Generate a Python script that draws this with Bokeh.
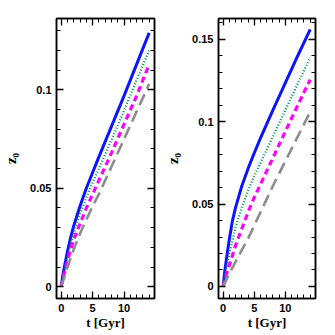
from bokeh.plotting import figure
from bokeh.layouts import row
from bokeh.models import Range1d, LinearAxis, FixedTicker, CustomJSTickFormatter
from bokeh.embed import file_html
from bokeh.resources import INLINE

# ---------------- data ----------------
t = [0, 0.25, 0.5, 1, 1.5, 2, 3, 4, 5, 6, 8, 10, 12, 14]

left_blue = [0, 0.0055, 0.010, 0.018, 0.025, 0.031, 0.041, 0.050, 0.058, 0.066, 0.0815, 0.097, 0.113, 0.129]
left_green = [0, 0.0045, 0.008, 0.015, 0.022, 0.027, 0.037, 0.045, 0.053, 0.060, 0.0745, 0.0895, 0.105, 0.120]
left_magenta = [0, 0.0035, 0.007, 0.013, 0.019, 0.024, 0.032, 0.040, 0.047, 0.054, 0.068, 0.0825, 0.097, 0.113]
left_gray = [0, 0.0025, 0.005, 0.010, 0.0145, 0.019, 0.027, 0.034, 0.041, 0.047, 0.061, 0.075, 0.089, 0.103]

right_blue = [0, 0.009, 0.016, 0.029, 0.040, 0.048, 0.061, 0.0715, 0.081, 0.090, 0.107, 0.1236, 0.140, 0.156]
right_green = [0, 0.006, 0.011, 0.020, 0.028, 0.036, 0.048, 0.058, 0.067, 0.075, 0.091, 0.107, 0.123, 0.139]
right_magenta = [0, 0.0037, 0.007, 0.013, 0.019, 0.025, 0.035, 0.045, 0.054, 0.062, 0.078, 0.094, 0.110, 0.1255]
right_gray = [0, 0.002, 0.004, 0.008, 0.0115, 0.015, 0.022, 0.029, 0.037, 0.045, 0.061, 0.076, 0.091, 0.106]

x_major = [0, 5, 10]
x_minor = list(range(0, 15))
y_major_left = [0, 0.05, 0.1]
y_major_right = [0, 0.05, 0.1, 0.15]
y_minor_left = [i / 100 for i in range(0, 14)]
y_minor_right = [i / 100 for i in range(0, 17)]

x_label = "t [Gyr]"
y_label = "z\u2080"

TICK_FONT = "Liberation Sans"
LABEL_FONT = "Liberation Serif"


def fmt_override(ticks):
    return {v: ("0" if v == 0 else str(v)) for v in ticks}


def make_panel(series, y_range, y_major, y_minor, border_left, border_right, frame_w):
    p = figure(output_backend="svg", toolbar_location=None,
               frame_width=frame_w, frame_height=280,
               min_border_left=border_left, min_border_right=border_right,
               min_border_top=18, min_border_bottom=30,
               x_range=Range1d(-0.75, 14.85), y_range=Range1d(*y_range),
               background_fill_color="white", border_fill_color="white")
    p.grid.visible = False
    p.outline_line_color = "black"
    p.outline_line_width = 1.5

    blue, green, magenta, gray = series
    p.line(t, blue, line_color="#0a14ff", line_width=3)
    p.line(t, green, line_color="#00905a", line_width=2.3, line_dash="1 2")
    p.line(t, magenta, line_color="#ff00ff", line_width=3.2, line_dash="6 4")
    p.line(t, gray, line_color="#8c8c8c", line_width=2.6, line_dash="12 6")

    xt = FixedTicker(ticks=x_major, minor_ticks=x_minor)
    yt = FixedTicker(ticks=y_major, minor_ticks=y_minor)

    # primary axes
    xa = p.xaxis[0]
    xa.ticker = xt
    xa.major_label_overrides = fmt_override(x_major)
    xa.axis_label = x_label
    ya = p.yaxis[0]
    ya.ticker = yt
    ya.major_label_overrides = fmt_override(y_major)
    ya.axis_label = y_label

    # mirrored axes (ticks only)
    blank = CustomJSTickFormatter(code="return ''")
    top = LinearAxis(ticker=FixedTicker(ticks=x_major, minor_ticks=x_minor), formatter=blank)
    right = LinearAxis(ticker=FixedTicker(ticks=y_major, minor_ticks=y_minor), formatter=blank)
    p.add_layout(top, "above")
    p.add_layout(right, "right")

    for ax in [xa, ya, top, right]:
        ax.axis_line_color = "black"
        ax.axis_line_width = 1.5
        ax.major_tick_in = 7
        ax.major_tick_out = 0
        ax.minor_tick_in = 4
        ax.minor_tick_out = 0
        ax.major_tick_line_width = 1.3
        ax.minor_tick_line_width = 1
        ax.major_label_text_font = TICK_FONT
        ax.major_label_text_font_style = "bold"
        ax.major_label_text_font_size = "11px"
        ax.major_label_text_color = "black"
        ax.axis_label_text_font = LABEL_FONT
        ax.axis_label_text_font_style = "bold"
        ax.axis_label_text_font_size = "13px"
        ax.axis_label_text_color = "black"
    ya.axis_label_text_font_size = "15px"
    xa.major_label_standoff = 5
    xa.axis_label_standoff = 0
    ya.major_label_standoff = 5
    ya.axis_label_standoff = 8
    top.major_label_standoff = 0
    right.major_label_standoff = 0
    return p


pl = make_panel((left_blue, left_green, left_magenta, left_gray),
                (-0.006, 0.1363), y_major_left, y_minor_left, 48, 8, 98)
pr = make_panel((right_blue, right_green, right_magenta, right_gray),
                (-0.0073, 0.1626), y_major_right, y_minor_right, 56, 8, 97)

layout = row(pl, pr)
open("out.html", "w").write(file_html(layout, INLINE))
